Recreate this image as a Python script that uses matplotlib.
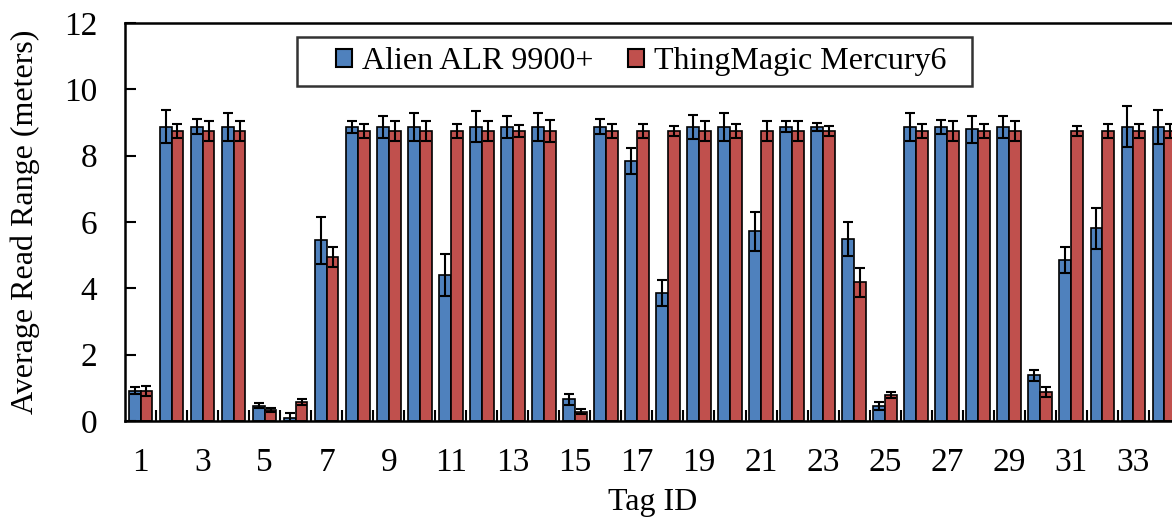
import numpy as np
import matplotlib
matplotlib.use("Agg")
import matplotlib.pyplot as plt
from matplotlib.ticker import FixedLocator
from matplotlib.patches import Rectangle

plt.rcParams["font.family"] = ["Liberation Serif", "DejaVu Serif"]

# 每个标签的平均读取距离 (m) 及误差
tag_ids = np.arange(1, 35)
alien_mean = [0.91, 8.87, 8.87, 8.87, 0.46, 0.10, 5.45, 8.87, 8.87, 8.87,
              4.40, 8.87, 8.87, 8.87, 0.65, 8.87, 7.85, 3.87, 8.87, 8.87,
              5.72, 8.87, 8.87, 5.49, 0.46, 8.87, 8.87, 8.79, 8.87, 1.38,
              4.85, 5.81, 8.87, 8.87]
alien_err = [0.10, 0.50, 0.23, 0.43, 0.07, 0.13, 0.71, 0.18, 0.33, 0.43,
             0.62, 0.47, 0.33, 0.43, 0.17, 0.23, 0.39, 0.39, 0.37, 0.42,
             0.59, 0.17, 0.12, 0.51, 0.12, 0.42, 0.21, 0.41, 0.33, 0.17,
             0.40, 0.62, 0.62, 0.52]
tm_mean = [0.91, 8.74, 8.74, 8.74, 0.33, 0.56, 4.94, 8.74, 8.74, 8.74,
           8.74, 8.74, 8.74, 8.74, 0.28, 8.74, 8.74, 8.74, 8.74, 8.74,
           8.74, 8.74, 8.74, 4.18, 0.79, 8.74, 8.74, 8.74, 8.74, 0.87,
           8.74, 8.74, 8.74, 8.74]
tm_err = [0.15, 0.20, 0.30, 0.30, 0.05, 0.09, 0.31, 0.20, 0.30, 0.30,
          0.20, 0.30, 0.18, 0.32, 0.08, 0.22, 0.20, 0.16, 0.30, 0.20,
          0.30, 0.30, 0.16, 0.43, 0.09, 0.20, 0.30, 0.20, 0.30, 0.16,
          0.16, 0.20, 0.20, 0.20]

fig = plt.figure(figsize=(11.72, 5.2), dpi=100)
ax = fig.add_axes([0.1067, 0.1904, 0.9, 0.7654])

w = 0.38
err_kw = dict(ecolor="black", elinewidth=1.5, capsize=3.3, capthick=1.5)
ax.bar(tag_ids - w / 2, alien_mean, w, yerr=alien_err, color="#4F81BD",
       edgecolor="black", linewidth=1.2, error_kw=err_kw, label="Alien ALR 9900+")
ax.bar(tag_ids + w / 2, tm_mean, w, yerr=tm_err, color="#C0504D",
       edgecolor="black", linewidth=1.2, error_kw=err_kw, label="ThingMagic Mercury6")

ax.set_xlim(0.5, 34.5)
ax.set_ylim(0, 12)
ax.set_yticks(np.arange(0, 13, 2))
ax.set_xticks(tag_ids[::2])
ax.xaxis.set_minor_locator(FixedLocator(np.arange(1.5, 34.5, 1)))
ax.tick_params(axis="x", which="major", length=0, pad=19, labelsize=24)
ax.tick_params(axis="x", which="minor", direction="in", length=8, width=1.5)
ax.tick_params(axis="y", direction="in", length=8, width=1.5, labelsize=24, pad=20)
for s in ax.spines.values():
    s.set_linewidth(1.8)

ax.set_xlabel("Tag ID", fontsize=23, labelpad=7)
ax.set_ylabel("Average Read Range (meters)", fontsize=23, labelpad=17)

# 图例：无边框，外框单独画
leg = ax.legend(loc="center left", bbox_to_anchor=(0.200, 0.903), ncol=2,
                fontsize=23, frameon=False, borderpad=0, borderaxespad=0,
                handlelength=0.5, handleheight=0.5, handletextpad=0.3,
                columnspacing=1.1)
for h in leg.legend_handles:
    h.set_linewidth(1.5)
ax.add_patch(Rectangle((0.163, 0.842), 0.6395, 0.123, transform=ax.transAxes,
                       facecolor="none", edgecolor="#333333", linewidth=1.8,
                       zorder=5, clip_on=False))

fig.savefig("out.png", dpi=100)
